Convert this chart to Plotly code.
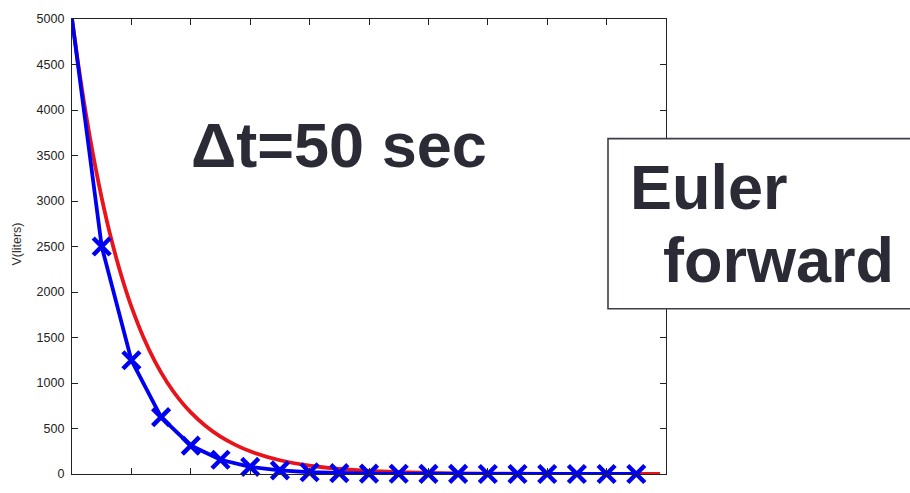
import plotly.graph_objects as go

# Exact solution V(t) (liters), sampled in seconds
t_exact = [0, 10, 20, 30, 40, 50, 60, 70, 80, 90, 100, 120, 140, 160, 180, 200,
           225, 250, 275, 300, 350, 400, 450, 500, 600, 700, 800, 900, 990]
v_exact = [5000, 4524, 4094, 3704, 3352, 3033, 2744, 2483, 2247, 2033, 1839,
           1506, 1233, 1009, 826, 677, 527, 410, 320, 249, 151, 92, 56, 34,
           12, 5, 2, 1, 0]

# Euler forward steps, dt = 50 s
t_euler = [0, 50, 100, 150, 200, 250, 300, 350, 400, 450, 500, 550, 600, 650,
           700, 750, 800, 850, 900, 950]
v_euler = [5000, 2500, 1250, 625, 312.5, 156.25, 78.1, 39.1, 19.5, 9.8, 4.9,
           2.4, 1.2, 0.6, 0.3, 0.15, 0.08, 0.04, 0.02, 0.01]

y_ticks = [0, 500, 1000, 1500, 2000, 2500, 3000, 3500, 4000, 4500, 5000]

W, H = 910, 493
L, R, T, B = 72, 244, 13, 12
pw, ph = W - L - R, H - T - B
BLUE = "#0000f0"
RED = "#e8131b"


def px(x):
    return (x - L) / pw


def py(y):
    return (H - B - y) / ph


fig = go.Figure()
fig.add_trace(go.Scatter(
    x=t_exact, y=v_exact, mode="lines",
    line=dict(color=RED, width=3.8, shape="spline", smoothing=0.6),
    hoverinfo="skip", showlegend=False, cliponaxis=True,
))
fig.add_trace(go.Scatter(
    x=t_euler, y=v_euler, mode="lines",
    line=dict(color=BLUE, width=3.8),
    hoverinfo="skip", showlegend=False, cliponaxis=True,
))
# step markers (the starting value carries none)
fig.add_trace(go.Scatter(
    x=t_euler[1:], y=v_euler[1:], mode="markers",
    marker=dict(symbol="x-thin", size=17, opacity=1,
                line=dict(color=BLUE, width=4.5), color=BLUE),
    hoverinfo="skip", showlegend=False, cliponaxis=False,
))

axis_common = dict(
    showgrid=False, zeroline=False, showline=True, linecolor="#222",
    linewidth=1.3, mirror="ticks", ticks="inside", tickcolor="#222",
    ticklen=6, tickwidth=1.3,
)

fig.update_xaxes(range=[0, 1000], dtick=100, tick0=0, showticklabels=False,
                 **axis_common)
fig.update_yaxes(range=[0, 5000], tickvals=y_ticks,
                 ticktext=[str(v) for v in y_ticks],
                 tickfont=dict(family="Liberation Sans, Arial", size=12.5,
                               color="#222"),
                 ticklabelstandoff=4, **axis_common)

# Box holding the method name
fig.add_shape(type="rect", xref="paper", yref="paper",
              x0=px(608), x1=px(930), y0=py(311), y1=py(136),
              line=dict(color="#3e3e48", width=1.6), fillcolor="white",
              layer="above")

big = dict(family="Liberation Sans, Arial", size=63, color="#2b2b35")
fig.add_annotation(xref="paper", yref="paper", x=px(339), y=py(143),
                   text="<b>Δt=50 sec</b>", showarrow=False,
                   xanchor="center", yanchor="middle", font=big)
fig.add_annotation(xref="paper", yref="paper", x=px(628), y=py(186),
                   text="<b>Euler</b>", showarrow=False,
                   xanchor="left", yanchor="middle", font=big)
fig.add_annotation(xref="paper", yref="paper", x=px(661), y=py(261),
                   text="<b>forward</b>", showarrow=False,
                   xanchor="left", yanchor="middle", font=big)

fig.add_annotation(xref="paper", yref="paper", x=px(17), y=py(245),
                   text="V(liters)", showarrow=False, textangle=-90,
                   xanchor="center", yanchor="middle",
                   font=dict(family="Liberation Sans, Arial", size=12.5,
                             color="#333"))

fig.update_layout(
    width=W, height=H,
    margin=dict(l=L, r=R, t=T, b=B),
    paper_bgcolor="white", plot_bgcolor="white",
    showlegend=False,
)

fig.write_html("out.html")
